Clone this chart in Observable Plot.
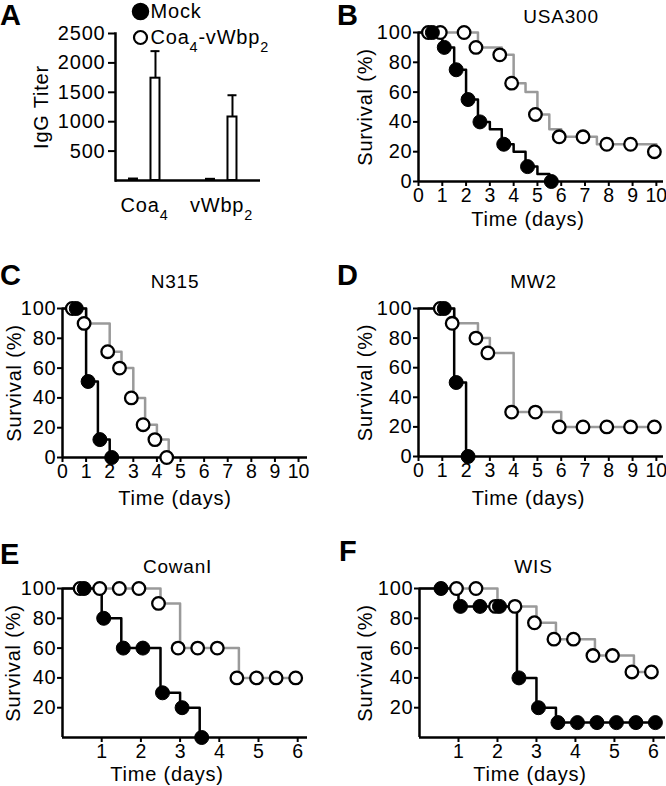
<!DOCTYPE html>
<html>
<head>
<meta charset="utf-8">
<script src="https://cdn.jsdelivr.net/npm/d3@7"></script>
<script src="https://cdn.jsdelivr.net/npm/@observablehq/plot@0.6"></script>
<style>
  body { margin: 0; background: #fff; }
  #fig { position: relative; width: 666px; height: 786px; overflow: hidden;
         font-family: "Liberation Sans", Arial, Helvetica, sans-serif; color: #000; }
  .panel { position: absolute; }
  .letter { position: absolute; font-weight: bold; font-size: 29px; line-height: 1; }
  .xticks text { letter-spacing: 0px; }
</style>
</head>
<body>
<div id="fig"></div>
<script>
// ---------- Panel A: IgG titers ----------
const antigens = ["Coa4", "vWbp2"];
const groupNames = ["Mock", "Coa4-vWbp2"];
const titerMock = [25, 20];
const titerVacc = [1740, 1080];
const titerVaccErr = [460, 370];
const titerTicks = [500, 1000, 1500, 2000, 2500];

// ---------- Survival panels (time in days, survival %) ----------
const longTicks = [0, 1, 2, 3, 4, 5, 6, 7, 8, 9, 10];
const shortTicks = [1, 2, 3, 4, 5, 6];
const survTicks = [0, 20, 40, 60, 80, 100];
const survTicksNoZero = [20, 40, 60, 80, 100];

const usa300MockPts = [[0.5,100],[1,90],[1.5,75],[2,55],[2.5,40],[3.5,25],[4.5,10],[5.5,0]];
const usa300VaccPts = [[0.5,100],[1,100],[2,100],[2.5,90],[3.5,85],[4,66],[5,45],[6,30],[7,30],[8,25],[9,25],[10,20]];
const usa300MockStep = [[0,100],[1,90],[1.5,75],[2,55],[2.5,40],[3,35],[3.5,25],[4,20],[4.5,10],[5,5],[5.5,0]];
const usa300VaccStep = [[0,100],[2.5,90],[3.5,85],[4,66],[4.5,60],[5,45],[5.5,35],[6,30],[7.5,25],[10,20]];

const n315MockPts = [[0.5,100],[1,51],[1.5,12],[2,0]];
const n315VaccPts = [[0.5,100],[1,90],[2,71],[2.5,60],[3,40],[3.5,22],[4,12],[4.5,0]];
const n315MockStep = [[0,100],[1,51],[1.5,12],[2,0]];
const n315VaccStep = [[0,100],[1,90],[2,71],[2.5,60],[3,40],[3.5,22],[4,12],[4.5,0]];

const mw2MockPts = [[1,100],[1.5,50],[2,0]];
const mw2VaccPts = [[1,100],[1.5,90],[2.5,80],[3,70],[4,30],[5,30],[6,20],[7,20],[8,20],[9,20],[10,20]];
const mw2MockStep = [[0,100],[1.5,50],[2,0]];
const mw2VaccStep = [[0,100],[1.5,90],[2.5,80],[3,70],[4,30],[6,20],[10,20]];

const cowanMockPts = [[0.5,100],[1,80],[1.5,60],[2,60],[2.5,30],[3,20],[3.5,0]];
const cowanVaccPts = [[0.5,100],[1,100],[1.5,100],[2,100],[2.5,90],[3,60],[3.5,60],[4,60],[4.5,40],[5,40],[5.5,40],[6,40]];
const cowanMockStep = [[0,100],[1,80],[1.5,60],[2.5,30],[3,20],[3.5,0]];
const cowanVaccStep = [[0,100],[2.5,90],[3,60],[4.5,40],[6,40]];

const wisMockPts = [[0.5,100],[1,88],[1.5,88],[2,88],[2.5,40],[3,20],[3.5,10],[4,10],[4.5,10],[5,10],[5.5,10],[6,10]];
const wisVaccPts = [[1,100],[1.5,100],[2,88],[2.5,88],[3,77],[3.5,66],[4,66],[4.5,55],[5,55],[5.5,44],[6,44]];
const wisMockStep = [[0,100],[1,88],[2.5,40],[3,20],[3.5,10],[6,10]];
const wisVaccStep = [[0,100],[2,88],[3,77],[3.5,66],[4.5,55],[5.5,44],[6,44]];

const FONT = '"Liberation Sans", Arial, Helvetica, sans-serif';
const fig = document.getElementById("fig");

function baseStyle() {
  return { fontFamily: FONT, fontSize: "20px", color: "#000", background: "transparent", overflow: "visible", letterSpacing: "0.8px" };
}

function place(el, left, top) {
  const wrap = document.createElement("div");
  wrap.className = "panel";
  wrap.style.left = left + "px";
  wrap.style.top = top + "px";
  wrap.appendChild(el);
  fig.appendChild(wrap);
}

function subscripts(svg) {
  svg.querySelectorAll("text").forEach(t => {
    if (t.children.length === 0 && /[a-z]\d/.test(t.textContent)) {
      const s = t.textContent.replace(/&/g, "&amp;").replace(/</g, "&lt;");
      t.innerHTML = s.replace(/([a-z])(\d)/g, '$1<tspan baseline-shift="sub" font-size="72%">$2</tspan>');
    }
  });
}

// ---------- Panel A ----------
const titerData = antigens.map((a, i) => ({
  antigen: a, mock: titerMock[i], vacc: titerVacc[i], hi: titerVacc[i] + titerVaccErr[i]
}));

const plotA = Plot.plot({
  width: 333, height: 260,
  marginLeft: 115, marginRight: 73, marginTop: 33, marginBottom: 80,
  style: baseStyle(),
  x: { domain: antigens, paddingInner: 0.5, paddingOuter: 0.1916, align: 0.33, round: false },
  y: { domain: [0, 2500] },
  marks: [
    Plot.ruleX(titerData, { x: "antigen", y1: "vacc", y2: "hi", stroke: "#000", strokeWidth: 2, dx: 11 }),
    Plot.tickY(titerData, { x: "antigen", y: "hi", stroke: "#000", strokeWidth: 2, insetLeft: 25.75, insetRight: 3.75 }),
    Plot.barY(titerData, { x: "antigen", y: "mock", fill: "white", stroke: "#000", strokeWidth: 2, insetLeft: 4.25, insetRight: 26.25 }),
    Plot.barY(titerData, { x: "antigen", y: "vacc", fill: "white", stroke: "#000", strokeWidth: 2, insetLeft: 25.75, insetRight: 3.75 }),
    Plot.ruleY([0], { stroke: "#000", strokeWidth: 2.5 }),
    Plot.frame({ anchor: "left", stroke: "#000", strokeWidth: 2.5 }),
    Plot.axisY({ ticks: titerTicks, tickSize: 7, tickPadding: 3, strokeWidth: 2, label: null, tickFormat: d => String(d) }),
    Plot.axisX({ tickSize: 0, tickPadding: 17, label: null }),
    Plot.text(["IgG Titer"], { frameAnchor: "left", textAnchor: "middle", lineAnchor: "middle", rotate: -90, dx: -74, fontSize: 20 }),
    Plot.dot([groupNames[0]], { frameAnchor: "top-left", dx: 25, dy: -22, r: 8, fill: "#000", stroke: "#000" }),
    Plot.dot([groupNames[1]], { frameAnchor: "top-left", dx: 25, dy: 4, r: 6.5, fill: "white", stroke: "#000", strokeWidth: 2.2 }),
    Plot.text([groupNames[0]], { frameAnchor: "top-left", dx: 35, dy: -22, textAnchor: "start", lineAnchor: "middle", fontSize: 20 }),
    Plot.text([groupNames[1]], { frameAnchor: "top-left", dx: 35, dy: 4, textAnchor: "start", lineAnchor: "middle", fontSize: 20 })
  ]
});
subscripts(plotA);
place(plotA, 0, 0);

// ---------- Survival panels ----------
const toObj = a => a.map(([t, s]) => ({ t, s }));

function survival(cfg) {
  return Plot.plot({
    width: 333, height: cfg.height,
    marginLeft: cfg.mL, marginRight: cfg.mR, marginTop: cfg.mT, marginBottom: cfg.mB,
    style: baseStyle(),
    x: { domain: [0, cfg.xMax] },
    y: { domain: [0, 100] },
    marks: [
      Plot.axisX({ ticks: cfg.xTicks, tickSize: 5, tickPadding: 2, strokeWidth: 2, label: null, fontSize: 19.5, className: "xticks", tickFormat: d => String(d) }),
      Plot.axisY({ ticks: cfg.yTicks, tickSize: 5, tickPadding: 1, strokeWidth: 2, label: null, tickFormat: d => String(d) }),
      Plot.line(toObj(cfg.vaccStep), { x: "t", y: "s", curve: "step-after", stroke: "#9a9a9a", strokeWidth: 2.5 }),
      Plot.line(toObj(cfg.mockStep), { x: "t", y: "s", curve: "step-after", stroke: "#000", strokeWidth: 2.5 }),
      Plot.ruleY([0], { stroke: "#000", strokeWidth: 2.5 }),
      Plot.ruleX([0], { stroke: "#000", strokeWidth: 2.5 }),
      Plot.dot(toObj(cfg.vaccPts), { x: "t", y: "s", r: 6.3, fill: "white", stroke: "#000", strokeWidth: 2.3, dx: -2 }),
      Plot.dot(toObj(cfg.mockPts), { x: "t", y: "s", r: 7, fill: "#000", stroke: "#000", strokeWidth: 1, dx: 2 }),
      Plot.text([cfg.title], { frameAnchor: "top", textAnchor: "middle", lineAnchor: "middle", dx: cfg.tDx, dy: cfg.tDy, fontSize: 19 }),
      Plot.text(["Survival (%)"], { frameAnchor: "left", textAnchor: "middle", lineAnchor: "middle", rotate: -90, dx: cfg.yDx, fontSize: 20 }),
      Plot.text(["Time (days)"], { frameAnchor: "bottom", textAnchor: "middle", lineAnchor: "middle", dx: cfg.xDx, dy: cfg.xDy, fontSize: 20 })
    ]
  });
}

place(survival({
  title: "USA300", height: 260, mL: 85, mR: 3, mT: 32, mB: 79, xMax: 10.3,
  xTicks: longTicks, yTicks: survTicks,
  mockPts: usa300MockPts, vaccPts: usa300VaccPts, mockStep: usa300MockStep, vaccStep: usa300VaccStep,
  tDx: 20, tDy: -16, yDx: -53, xDx: -13, xDy: 38
}), 333, 0);

place(survival({
  title: "N315", height: 260, mL: 62, mR: 26, mT: 48, mB: 63, xMax: 10.38,
  xTicks: longTicks, yTicks: survTicks,
  mockPts: n315MockPts, vaccPts: n315VaccPts, mockStep: n315MockStep, vaccStep: n315VaccStep,
  tDx: -10, tDy: -27, yDx: -48, xDx: -10, xDy: 41
}), 0, 260);

place(survival({
  title: "MW2", height: 260, mL: 85, mR: 3, mT: 48, mB: 64, xMax: 10.3,
  xTicks: longTicks, yTicks: survTicks,
  mockPts: mw2MockPts, vaccPts: mw2VaccPts, mockStep: mw2MockStep, vaccStep: mw2VaccStep,
  tDx: -7.5, tDy: -27, yDx: -53, xDx: -12.5, xDy: 42
}), 333, 260);

place(survival({
  title: "CowanI", height: 266, mL: 62, mR: 26, mT: 68, mB: 49, xMax: 6.25,
  xTicks: shortTicks, yTicks: survTicksNoZero,
  mockPts: cowanMockPts, vaccPts: cowanVaccPts, mockStep: cowanMockStep, vaccStep: cowanVaccStep,
  tDx: -7.5, tDy: -22, yDx: -49, xDx: -18, xDy: 37
}), 0, 520);

place(survival({
  title: "WIS", height: 266, mL: 86, mR: 1, mT: 68, mB: 49, xMax: 6.31,
  xTicks: shortTicks, yTicks: survTicksNoZero,
  mockPts: wisMockPts, vaccPts: wisVaccPts, mockStep: wisMockStep, vaccStep: wisVaccStep,
  tDx: -9, tDy: -22, yDx: -54, xDx: -12.5, xDy: 37
}), 333, 520);

// ---------- Panel letters ----------
const panelLetters = [["A", 0, 1], ["B", 337, 1], ["C", 0, 261], ["D", 337, 261], ["E", 0, 540], ["F", 339, 537]];
panelLetters.forEach(([l, x, y]) => {
  const d = document.createElement("div");
  d.className = "letter";
  d.textContent = l;
  d.style.left = x + "px";
  d.style.top = y + "px";
  fig.appendChild(d);
});
</script>
</body>
</html>
